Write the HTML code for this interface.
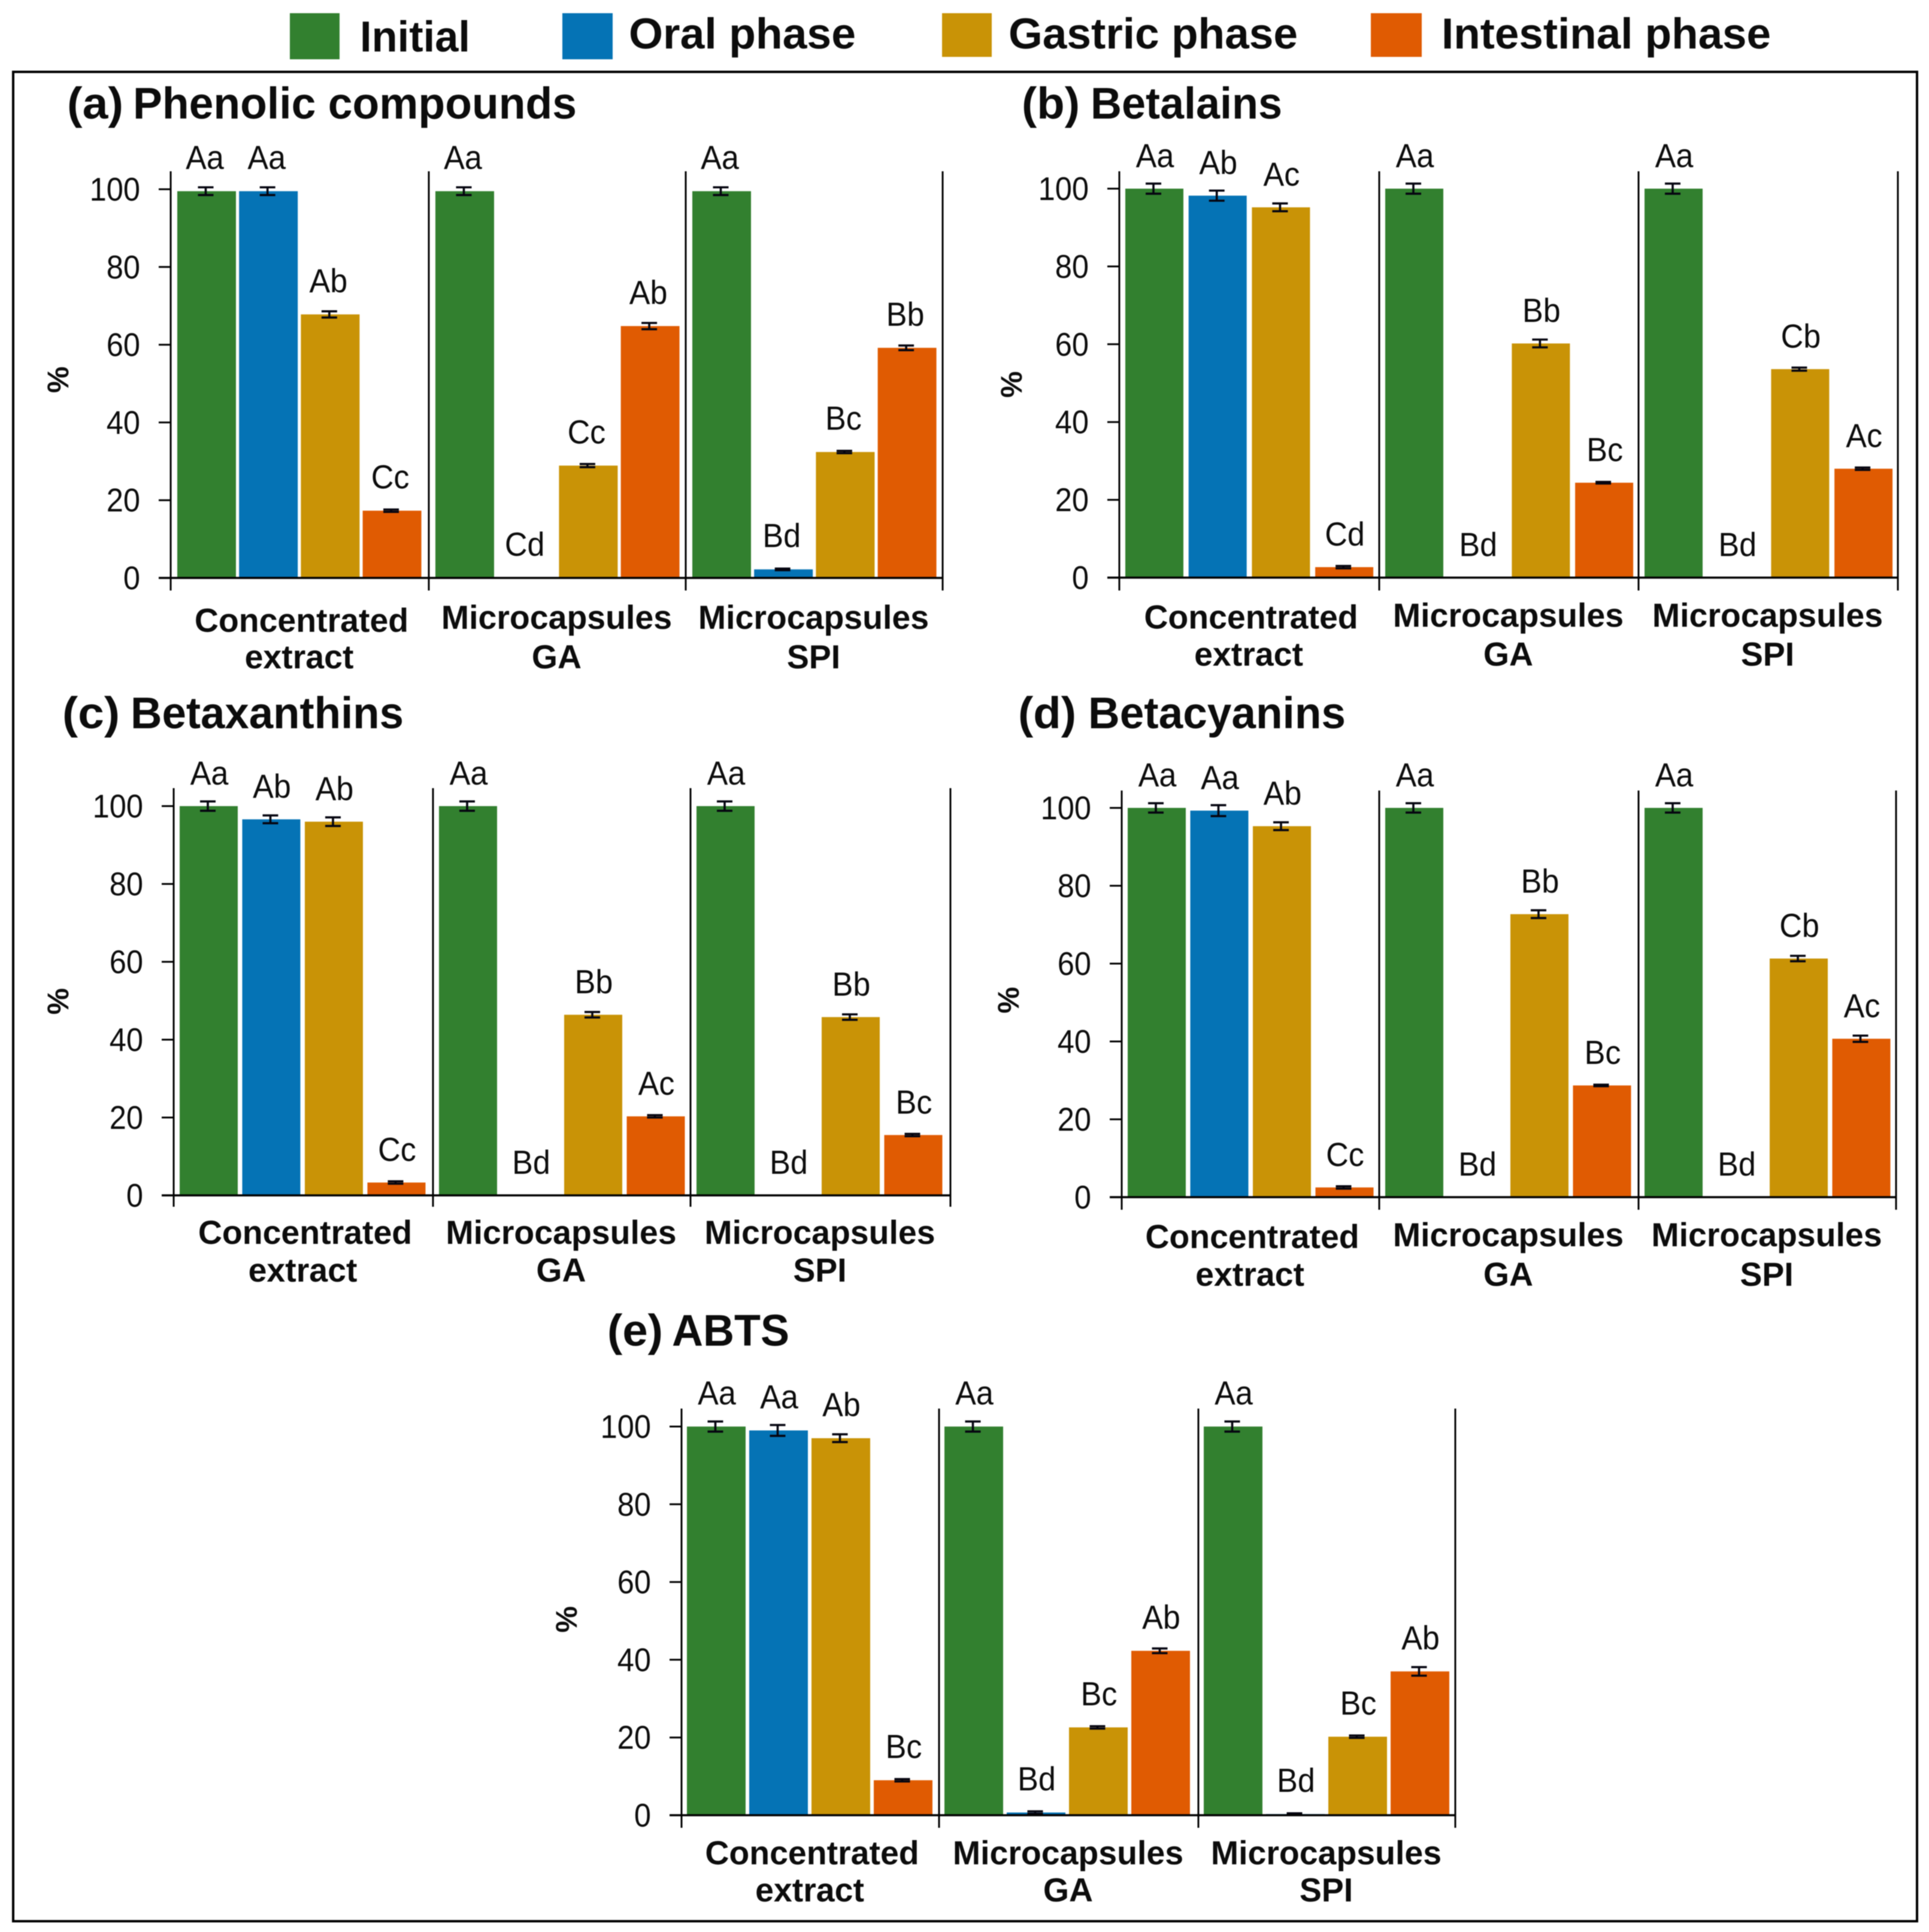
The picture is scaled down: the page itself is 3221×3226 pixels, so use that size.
<!DOCTYPE html>
<html lang="en">
<head>
<meta charset="utf-8">
<title>Bioaccessibility bar charts</title>
<style>
html,body{margin:0;padding:0;background:#fff;}
svg{display:block;filter:blur(0.9px);}
text{font-family:"Liberation Sans",Arial,sans-serif;fill:#0c0c0c;}
.head{font-weight:bold;font-size:72px;}
.title{font-weight:bold;font-size:74px;}
</style>
</head>
<body>
<svg id="figure" xmlns="http://www.w3.org/2000/svg" width="3221" height="3226" viewBox="0 0 3221 3226">
  <rect x="0" y="0" width="3221" height="3226" fill="#ffffff"/>
  <g>
    <rect x="484" y="22" width="83" height="77" fill="#32802f"/>
    <text class="head" x="601" y="86" textLength="184" lengthAdjust="spacingAndGlyphs">Initial</text>
    <rect x="939" y="22" width="84" height="77" fill="#0573b5"/>
    <text class="head" x="1050" y="81" textLength="379" lengthAdjust="spacingAndGlyphs">Oral phase</text>
    <rect x="1573" y="22" width="83" height="73" fill="#c99306"/>
    <text class="head" x="1684" y="81" textLength="483" lengthAdjust="spacingAndGlyphs">Gastric phase</text>
    <rect x="2289" y="22" width="85" height="73" fill="#e05b02"/>
    <text class="head" x="2407" y="81" textLength="550" lengthAdjust="spacingAndGlyphs">Intestinal phase</text>
  </g>
  <rect x="22" y="120" width="3179" height="3088" fill="none" stroke="#000" stroke-width="4"/>
  <g>
    <text class="title" x="112" y="198" textLength="94" lengthAdjust="spacingAndGlyphs">(a)</text>
    <text class="title" x="222" y="198" textLength="741" lengthAdjust="spacingAndGlyphs">Phenolic compounds</text>
    <text class="title" x="1706" y="198" textLength="97" lengthAdjust="spacingAndGlyphs">(b)</text>
    <text class="title" x="1821" y="198" textLength="320" lengthAdjust="spacingAndGlyphs">Betalains</text>
    <text class="title" x="104" y="1216" textLength="96" lengthAdjust="spacingAndGlyphs">(c)</text>
    <text class="title" x="218" y="1216" textLength="456" lengthAdjust="spacingAndGlyphs">Betaxanthins</text>
    <text class="title" x="1700" y="1216" textLength="97" lengthAdjust="spacingAndGlyphs">(d)</text>
    <text class="title" x="1817" y="1216" textLength="430" lengthAdjust="spacingAndGlyphs">Betacyanins</text>
    <text class="title" x="1014" y="2247" textLength="93" lengthAdjust="spacingAndGlyphs">(e)</text>
    <text class="title" x="1122" y="2247" textLength="196" lengthAdjust="spacingAndGlyphs">ABTS</text>
  </g>
</svg>
<script>
// ---- chart data ----
var tickValues = [0, 20, 40, 60, 80, 100];
var tickLabels = ['0', '20', '40', '60', '80', '100'];
var categoryLine1 = ['Concentrated', 'Microcapsules', 'Microcapsules'];
var categoryLine2 = ['extract', 'GA', 'SPI'];
var seriesNames = ['initial', 'oral', 'gastric', 'intestinal'];

// values per group: initial, oral, gastric, intestinal (% retained)
var phenolicValues = [[99.5, 99.5, 67.8, 17.3], [99.5, 0, 28.9, 64.8], [99.5, 2.2, 32.4, 59.2]];
var phenolicErrors = [[1, 1, 0.8, 0.3], [1, 0, 0.4, 0.8], [1, 0.2, 0.3, 0.6]];
var phenolicLetters = [['Aa', 'Aa', 'Ab', 'Cc'], ['Aa', 'Cd', 'Cc', 'Ab'], ['Aa', 'Bd', 'Bc', 'Bb']];

var betalainValues = [[100, 98.2, 95.2, 2.7], [100, 0, 60.2, 24.4], [100, 0, 53.6, 28]];
var betalainErrors = [[1.3, 1.3, 1, 0.3], [1.3, 0, 1, 0.2], [1.3, 0, 0.4, 0.3]];
var betalainLetters = [['Aa', 'Ab', 'Ac', 'Cd'], ['Aa', 'Bd', 'Bb', 'Bc'], ['Aa', 'Bd', 'Cb', 'Ac']];

var betaxanthinValues = [[100, 96.6, 96, 3.3], [100, 0, 46.4, 20.3], [100, 0, 45.8, 15.5]];
var betaxanthinErrors = [[1.2, 1, 1.1, 0.3], [1.2, 0, 0.7, 0.3], [1.2, 0, 0.7, 0.3]];
var betaxanthinLetters = [['Aa', 'Ab', 'Ab', 'Cc'], ['Aa', 'Bd', 'Bb', 'Ac'], ['Aa', 'Bd', 'Bb', 'Bc']];

var betacyaninValues = [[100, 99.3, 95.3, 2.5], [100, 0, 72.7, 28.7], [100, 0, 61.3, 40.7]];
var betacyaninErrors = [[1.2, 1.4, 1, 0.3], [1.2, 0, 1, 0.2], [1.2, 0, 0.7, 0.8]];
var betacyaninLetters = [['Aa', 'Aa', 'Ab', 'Cc'], ['Aa', 'Bd', 'Bb', 'Bc'], ['Aa', 'Bd', 'Cb', 'Ac']];

var abtsValues = [[100, 99, 97, 9], [100, 0.7, 22.6, 42.3], [100, 0.3, 20.2, 37]];
var abtsErrors = [[1.3, 1.4, 1, 0.3], [1.3, 0.3, 0.3, 0.6], [1.3, 0.2, 0.3, 1.1]];
var abtsLetters = [['Aa', 'Aa', 'Ab', 'Bc'], ['Aa', 'Bd', 'Bc', 'Ab'], ['Aa', 'Bd', 'Bc', 'Ab']];

// ---- panel geometry ----
var seriesColors = ['#32802f', '#0573b5', '#c99306', '#e05b02'];
var panels = [
  { id: 'a', values: phenolicValues, errors: phenolicErrors, letters: phenolicLetters,
    edges: [285, 716, 1145, 1574], y0: 965, y100: 316, top: 286, bottom: 986, offset: 11, pitch: 103.2, bw: 98,
    labelDx: 0, labelGap: 37, pctX: 97, pctY: 634, conc: 90, micro: 85, second: 151 },
  { id: 'b', values: betalainValues, errors: betalainErrors, letters: betalainLetters,
    edges: [1869, 2303, 2736, 3169], y0: 964.5, y100: 315, top: 286, bottom: 986, offset: 10, pitch: 105.7, bw: 97,
    labelDx: 4, labelGap: 36, pctX: 1689, pctY: 642, conc: 85, micro: 82, second: 147 },
  { id: 'c', values: betaxanthinValues, errors: betaxanthinErrors, letters: betaxanthinLetters,
    edges: [290, 723, 1153, 1587], y0: 1996, y100: 1346, top: 1316, bottom: 2015, offset: 10, pitch: 104.5, bw: 97,
    labelDx: 4, labelGap: 36, pctX: 97, pctY: 1672, conc: 81, micro: 81, second: 144 },
  { id: 'd', values: betacyaninValues, errors: betacyaninErrors, letters: betacyaninLetters,
    edges: [1873, 2303, 2736, 3166], y0: 1999, y100: 1349, top: 1320, bottom: 2020, offset: 10, pitch: 104.5, bw: 97,
    labelDx: 4, labelGap: 36, pctX: 1684, pctY: 1670, conc: 85, micro: 82, second: 148 },
  { id: 'e', values: abtsValues, errors: abtsErrors, letters: abtsLetters,
    edges: [1138, 1568, 2001, 2430], y0: 3031, y100: 2382, top: 2352, bottom: 3052, offset: 9, pitch: 104, bw: 98,
    labelDx: 4, labelGap: 37, pctX: 946, pctY: 2704, conc: 82, micro: 82, second: 144 }
];

var NS = 'http://www.w3.org/2000/svg';
var figure = document.getElementById('figure');

function make(tag, parent) {
  var node = document.createElementNS(NS, tag);
  parent.appendChild(node);
  return node;
}
function setAll(node, props) {
  for (var k in props) { node.setAttribute(k, props[k]); }
}
function narrow(node, factor) {
  var w = node.getComputedTextLength();
  node.setAttribute('textLength', w * factor);
  node.setAttribute('lengthAdjust', 'spacingAndGlyphs');
}
function yScale(p, v) { return p.y0 - (v / 100) * (p.y0 - p.y100); }
function barLeft(p, g, s) { return p.edges[g] + p.offset + s * p.pitch; }
function groupCenter(p, g) { return (p.edges[g] + p.edges[g + 1]) / 2; }

panels.forEach(function (p) {
  var group = make('g', figure);
  
  

  // bars, error bars, significance letters
  p.values.forEach(function (row, g) {
    row.forEach(function (v, s) {
      var left = barLeft(p, g, s);
      var cx = left + p.bw / 2 - 1.5;
      var err = p.errors[g][s];
      if (v > 0) {
        var bar = make('rect', group);
        
        
        setAll(bar, { x: left, y: yScale(p, v), width: p.bw, height: p.y0 - yScale(p, v), fill: seriesColors[s] });

        var eb = make('path', group);
        
        
        var yHi = yScale(p, v + err), yLo = yScale(p, v - err);
        setAll(eb, {
          d: 'M' + (cx - 13) + ' ' + yHi + 'H' + (cx + 13) + 'M' + cx + ' ' + yHi + 'V' + yLo + 'M' + (cx - 13) + ' ' + yLo + 'H' + (cx + 13),
          stroke: '#050510', 'stroke-width': 3.6, fill: 'none'
        });
      }
      var lab = make('text', group);
      
      
      setAll(lab, { x: cx - 1.5 + p.labelDx, y: yScale(p, v) - p.labelGap, 'text-anchor': 'middle', 'font-size': 56 });
      lab.textContent = p.letters[g][s];
      narrow(lab, 0.93);
    });
  });

  // y axis ticks and labels
  tickValues.forEach(function (t, i) {
    var tick = make('line', group);
    
    
    setAll(tick, { x1: p.edges[0] - 20, x2: p.edges[0], y1: yScale(p, t), y2: yScale(p, t), stroke: '#000', 'stroke-width': 3 });

    var tl = make('text', group);
    
    
    setAll(tl, { x: p.edges[0] - 51, y: yScale(p, t) + 19, 'text-anchor': 'end', 'font-size': 55 });
    tl.textContent = tickLabels[i];
    narrow(tl, 0.92);
  });

  // x axis line and group separators
  var xAxis = make('line', group);
  
  
  setAll(xAxis, { x1: p.edges[0] - 20, x2: p.edges[3] + 1, y1: p.y0, y2: p.y0, stroke: '#000', 'stroke-width': 3.6 });

  p.edges.forEach(function (ex, i) {
    var sep = make('line', group);
    
    
    setAll(sep, { x1: ex, x2: ex, y1: p.top, y2: p.bottom, stroke: '#000', 'stroke-width': 3 });
  });

  // y axis title
  var pct = make('text', group);
  
  
  setAll(pct, {
    x: p.pctX + 17, y: p.pctY, 'text-anchor': 'middle', 'font-size': 50, 'font-weight': 'bold',
    transform: 'rotate(-90 ' + (p.pctX + 17) + ' ' + p.pctY + ')'
  });
  pct.textContent = '%';

  // category labels
  categoryLine1.forEach(function (name, g) {
    var cx = groupCenter(p, g);
    var l1 = make('text', group);
    
    
    setAll(l1, { x: cx + (g === 0 ? 3 : -1), y: p.y0 + (g === 0 ? p.conc : p.micro), 'text-anchor': 'middle', 'font-size': 56, 'font-weight': 'bold' });
    l1.textContent = name;
    narrow(l1, 0.99);

    var l2 = make('text', group);
    
    
    setAll(l2, { x: cx - 1, y: p.y0 + p.second, 'text-anchor': 'middle', 'font-size': 56, 'font-weight': 'bold' });
    l2.textContent = categoryLine2[g];
    narrow(l2, 0.99);
  });
});
</script>
</body>
</html>
